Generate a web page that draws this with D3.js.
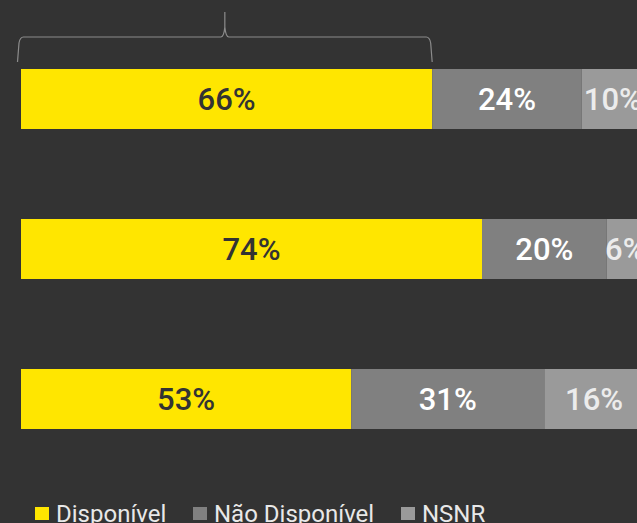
<!DOCTYPE html>
<meta charset="utf-8">
<style>

body {
  margin: 0;
  background: #333333;
}

svg {
  display: block;
  background: #333333;
}

.label {
  font: 500 31px Roboto, sans-serif;
  text-anchor: middle;
}

.legend text {
  font: 24px Roboto, sans-serif;
  fill: #e8e8e8;
}

.brace {
  fill: none;
  stroke: #8c8c8c;
  stroke-width: 1.2;
}

</style>
<body>
<script src="https://cdn.jsdelivr.net/npm/d3@7"></script>
<script>

var width = 637,
    height = 523;

var categories = ["Grupo 1", "Grupo 2", "Grupo 3"];
var series = ["Disponível", "Não Disponível", "NSNR"];
var disponivel = [66, 74, 53],
    naoDisponivel = [24, 20, 31],
    nsnr = [10, 6, 16];

var colors = ["#ffe600", "#808080", "#9a9a9a"],
    textColors = ["#333333", "#ffffff", "#ececec"];

var rows = categories.map(function(c, i) {
  return {cat: c, "Disponível": disponivel[i], "Não Disponível": naoDisponivel[i], "NSNR": nsnr[i]};
});

var stack = d3.stack().keys(series)(rows);

var x = d3.scaleLinear()
    .domain([0, 100])
    .range([21, 644]);

var y = d3.scaleBand()
    .domain(categories)
    .range([24, 474])
    .paddingInner(0.6)
    .paddingOuter(0.3);

var svg = d3.select("body").append("svg")
    .attr("width", width)
    .attr("height", height);

var layer = svg.selectAll(".layer")
    .data(stack)
  .enter().append("g")
    .attr("class", "layer");

layer.selectAll("rect")
    .data(function(d) { return d; })
  .enter().append("rect")
    .attr("x", function(d) { return x(d[0]); })
    .attr("y", function(d) { return y(d.data.cat); })
    .attr("width", function(d) { return x(d[1]) - x(d[0]); })
    .attr("height", y.bandwidth())
    .attr("fill", function(d) { return colors[series.indexOf(this.parentNode.__data__.key)]; });

layer.each(function(s, k) {
  d3.select(this).selectAll("text")
      .data(s)
    .enter().append("text")
      .attr("class", "label")
      .attr("x", function(d) { return (x(d[0]) + x(d[1])) / 2; })
      .attr("y", function(d) { return y(d.data.cat) + y.bandwidth() / 2; })
      .attr("dy", "0.36em")
      .attr("fill", textColors[k])
      .text(function(d) { return (d[1] - d[0]) + "%"; });
});

// brace over the first yellow segment
var bx0 = x(0) - 3.5,
    bx1 = x(disponivel[0]),
    bm = (bx0 + bx1) / 2,
    by = 37,
    bBottom = 62,
    bTop = 12;

svg.append("path")
    .attr("class", "brace")
    .attr("d", "M" + bx0 + "," + bBottom +
      "L" + (bx0 + 1.5) + "," + (by + 6) +
      "Q" + (bx0 + 2.5) + "," + by + " " + (bx0 + 6) + "," + by +
      "L" + (bm - 4) + "," + by +
      "Q" + (bm - 1) + "," + by + " " + bm + "," + (by - 10) +
      "L" + bm + "," + bTop +
      "M" + bm + "," + (by - 10) +
      "Q" + (bm + 1) + "," + by + " " + (bm + 4) + "," + by +
      "L" + (bx1 - 6) + "," + by +
      "Q" + (bx1 - 2.5) + "," + by + " " + (bx1 - 1.5) + "," + (by + 6) +
      "L" + bx1 + "," + bBottom);

// legend
var legendX = [35, 193, 401];

var legend = svg.selectAll(".legend")
    .data(series)
  .enter().append("g")
    .attr("class", "legend")
    .attr("transform", function(d, i) { return "translate(" + legendX[i] + ",507)"; });

legend.append("rect")
    .attr("width", 14)
    .attr("height", 13)
    .attr("fill", function(d, i) { return colors[i]; });

legend.append("text")
    .attr("x", 21)
    .attr("y", 15)
    .text(function(d) { return d; });

</script>
